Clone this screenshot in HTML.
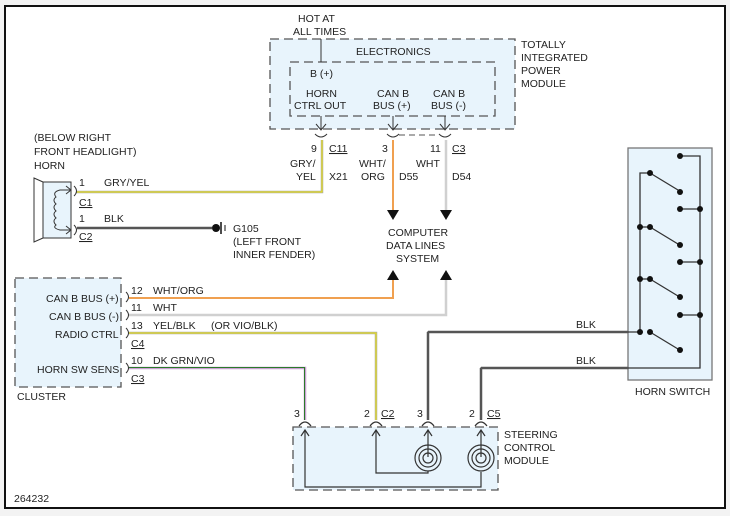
<!DOCTYPE html>
<html><head><meta charset="utf-8"><style>
html,body{margin:0;padding:0;background:#fff;}
svg{display:block;font-family:"Liberation Sans",Arial,sans-serif;}
text{font-size:10.5px;fill:#222;}
</style></head><body>
<svg width="730" height="516" viewBox="0 0 730 516" xmlns="http://www.w3.org/2000/svg">
<rect x="0" y="0" width="730" height="516" fill="#f3f3f3"/>
<rect x="5" y="6" width="720" height="502" fill="#fff" stroke="#111" stroke-width="2"/>
<defs>
<marker id="ah" markerWidth="8" markerHeight="8" refX="8" refY="4" orient="auto"><path d="M0,0 L8,4 L0,8" fill="#222"/></marker>
</defs>
<!-- TIPM -->
<rect x="270" y="39" width="245" height="90" fill="#e8f4fc" stroke="#555" stroke-width="1.3" stroke-dasharray="9,5"/>
<rect x="290" y="62" width="205" height="54" fill="#e8f4fc" stroke="#555" stroke-width="1.3" stroke-dasharray="9,5"/>
<text x="298" y="22">HOT AT</text><text x="293" y="35">ALL TIMES</text>
<line x1="321" y1="39" x2="321" y2="62" stroke="#333"/>
<text x="356" y="55">ELECTRONICS</text>
<text x="310" y="77">B (+)</text>
<text x="306" y="97">HORN</text><text x="294" y="109">CTRL OUT</text>
<text x="377" y="97">CAN B</text><text x="373" y="109">BUS (+)</text>
<text x="433" y="97">CAN B</text><text x="431" y="109">BUS (-)</text>
<text x="521" y="48">TOTALLY</text><text x="521" y="61">INTEGRATED</text><text x="521" y="74">POWER</text><text x="521" y="87">MODULE</text>
<g stroke="#333" fill="none">
<path d="M321,116 V130 M316,124 L321,130 L326,124"/>
<path d="M393,116 V130 M388,124 L393,130 L398,124"/>
<path d="M445,116 V130 M440,124 L445,130 L450,124"/>
<path d="M315,134 Q321,140 327,134"/>
<path d="M387,134 Q393,140 399,134"/>
<path d="M439,134 Q445,140 451,134"/>
</g>
<line x1="399" y1="135" x2="439" y2="135" stroke="#555" stroke-dasharray="6,4"/>
<text x="311" y="152">9</text><text x="329" y="152" text-decoration="underline">C11</text>
<text x="290" y="167">GRY/</text><text x="296" y="180">YEL</text><text x="329" y="180">X21</text>
<text x="382" y="152">3</text>
<text x="359" y="167">WHT/</text><text x="361" y="180">ORG</text><text x="399" y="180">D55</text>
<text x="430" y="152">11</text><text x="452" y="152" text-decoration="underline">C3</text>
<text x="416" y="167">WHT</text><text x="452" y="180">D54</text>
<!-- wires from TIPM -->
<path d="M322,140 V192 H76" stroke="#aaa" stroke-width="2.5" fill="none"/>
<path d="M322,140 V192 H76" stroke="#f2e800" stroke-width="1" fill="none"/>
<line x1="393" y1="140" x2="393" y2="210" stroke="#f0a050" stroke-width="2"/>
<line x1="446" y1="140" x2="446" y2="210" stroke="#d0d0d0" stroke-width="2.5"/>
<path d="M387,210 H399 L393,220 Z M440,210 H452 L446,220 Z" fill="#111"/>
<text x="388" y="236">COMPUTER</text><text x="386" y="249">DATA LINES</text><text x="396" y="262">SYSTEM</text>
<path d="M387,280 H399 L393,270 Z M440,280 H452 L446,280 L446,280 Z" fill="#111"/>
<path d="M440,280 H452 L446,270 Z" fill="#111"/>
<!-- horn -->
<text x="34" y="141">(BELOW RIGHT</text><text x="34" y="155">FRONT HEADLIGHT)</text><text x="34" y="169">HORN</text>
<path d="M34,178 L43,182 V238 L34,242 Z" fill="#fff" stroke="#333"/>
<rect x="43" y="182" width="28" height="56" fill="#e8f4fc" stroke="#333"/>
<path d="M70,190 H60 Q52,192 56,197 Q52,200 56,204 Q52,207 56,211 Q52,214 56,218 Q52,221 56,225 Q52,228 60,230 H70" fill="none" stroke="#333"/>
<path d="M66,186 L71,190 L66,194 M66,226 L71,230 L66,234" fill="none" stroke="#333"/>
<path d="M74,186 Q79,191 74,196 M74,225 Q79,230 74,235" fill="none" stroke="#333"/>
<text x="79" y="186">1</text><text x="104" y="186">GRY/YEL</text><text x="79" y="206" text-decoration="underline">C1</text>
<text x="79" y="222">1</text><text x="104" y="222">BLK</text><text x="79" y="240" text-decoration="underline">C2</text>
<line x1="77" y1="228" x2="212" y2="228" stroke="#555" stroke-width="2.5"/>
<circle cx="216" cy="228" r="4" fill="#111"/>
<line x1="221" y1="222" x2="221" y2="234" stroke="#111" stroke-width="1.5"/>
<line x1="225" y1="225" x2="225" y2="231" stroke="#111"/>
<text x="233" y="232">G105</text><text x="233" y="245">(LEFT FRONT</text><text x="233" y="258">INNER FENDER)</text>
<!-- cluster -->
<rect x="15" y="278" width="106" height="109" fill="#e8f4fc" stroke="#555" stroke-width="1.3" stroke-dasharray="9,5"/>
<text x="46" y="302">CAN B BUS (+)</text>
<text x="49" y="320">CAN B BUS (-)</text>
<text x="55" y="338">RADIO CTRL</text>
<text x="37" y="373">HORN SW SENS</text>
<text x="17" y="400">CLUSTER</text>
<g stroke="#333" fill="none">
<path d="M126,292 Q131,297 126,302 M126,310 Q131,315 126,320 M126,328 Q131,333 126,338 M126,363 Q131,368 126,373"/>
</g>
<path d="M129,298 H393 V280" stroke="#f0a050" stroke-width="2" fill="none"/>
<path d="M129,315 H446 V280" stroke="#d0d0d0" stroke-width="2.5" fill="none"/>
<path d="M129,333 H376 V420" stroke="#aaa" stroke-width="2.5" fill="none"/>
<path d="M129,333 H376 V420" stroke="#f2e800" stroke-width="1" fill="none"/>
<path d="M129,368 H305 V420" stroke="#c8a0d0" stroke-width="2.5" fill="none"/>
<path d="M129,367.5 H304.5 V420" stroke="#2a7a2a" stroke-width="1" fill="none"/>
<text x="131" y="294">12</text><text x="153" y="294">WHT/ORG</text>
<text x="131" y="311">11</text><text x="153" y="311">WHT</text>
<text x="131" y="329">13</text><text x="153" y="329">YEL/BLK</text><text x="211" y="329">(OR VIO/BLK)</text>
<text x="131" y="347" text-decoration="underline">C4</text>
<text x="131" y="364">10</text><text x="153" y="364">DK GRN/VIO</text>
<text x="131" y="382" text-decoration="underline">C3</text>
<text x="14" y="502">264232</text>
<!-- horn switch -->
<rect x="628" y="148" width="84" height="232" fill="#e8f4fc" stroke="#777" stroke-width="1.3"/>
<g stroke="#333" stroke-width="1.3" fill="none">
<path d="M680,156 H700 V368 H481 V420"/>
<path d="M650,173 H640 V332 H428 V420"/>
<path d="M680,209 H700 M680,262 H700 M680,315 H700 M640,227 H650 M640,279 H650"/>
<path d="M650,173 L678,190 M650,227 L678,244 M650,279 L678,296 M650,332 L678,349"/>
</g>
<g fill="#111">
<circle cx="680" cy="156" r="3"/><circle cx="650" cy="173" r="3"/><circle cx="680" cy="192" r="3"/>
<circle cx="680" cy="209" r="3"/><circle cx="700" cy="209" r="3"/>
<circle cx="640" cy="227" r="3"/><circle cx="650" cy="227" r="3"/><circle cx="680" cy="245" r="3"/>
<circle cx="680" cy="262" r="3"/><circle cx="700" cy="262" r="3"/>
<circle cx="640" cy="279" r="3"/><circle cx="650" cy="279" r="3"/><circle cx="680" cy="297" r="3"/>
<circle cx="680" cy="315" r="3"/><circle cx="700" cy="315" r="3"/>
<circle cx="640" cy="332" r="3"/><circle cx="650" cy="332" r="3"/><circle cx="680" cy="350" r="3"/>
</g>
<line x1="428" y1="332" x2="628" y2="332" stroke="#555" stroke-width="2.5"/>
<line x1="481" y1="368" x2="628" y2="368" stroke="#555" stroke-width="2.5"/>
<line x1="428" y1="332" x2="428" y2="420" stroke="#555" stroke-width="2.5"/>
<line x1="481" y1="368" x2="481" y2="420" stroke="#555" stroke-width="2.5"/>
<text x="576" y="328">BLK</text><text x="576" y="364">BLK</text>
<text x="635" y="395">HORN SWITCH</text>
<!-- steering control module -->
<rect x="293" y="427" width="205" height="63" fill="#e8f4fc" stroke="#555" stroke-width="1.3" stroke-dasharray="9,5"/>
<g stroke="#333" fill="none" stroke-width="1.2">
<path d="M299,426 Q305,418 311,426 M370,426 Q376,418 382,426 M422,426 Q428,418 434,426 M475,426 Q481,418 487,426"/>
<path d="M305,430 V487 H481 V472 M376,430 V473 H428 V471 M428,430 V457 M481,430 V457"/>
<path d="M301,436 L305,430 L309,436 M372,436 L376,430 L380,436 M424,436 L428,430 L432,436 M477,436 L481,430 L485,436"/>
<circle cx="428" cy="458" r="13"/><circle cx="428" cy="458" r="9"/><circle cx="428" cy="458" r="5"/>
<circle cx="481" cy="458" r="13"/><circle cx="481" cy="458" r="9"/><circle cx="481" cy="458" r="5"/>
</g>
<text x="294" y="417">3</text><text x="364" y="417">2</text><text x="381" y="417" text-decoration="underline">C2</text>
<text x="417" y="417">3</text><text x="469" y="417">2</text><text x="487" y="417" text-decoration="underline">C5</text>
<text x="504" y="438">STEERING</text><text x="504" y="451">CONTROL</text><text x="504" y="464">MODULE</text>
</svg>
</body></html>
